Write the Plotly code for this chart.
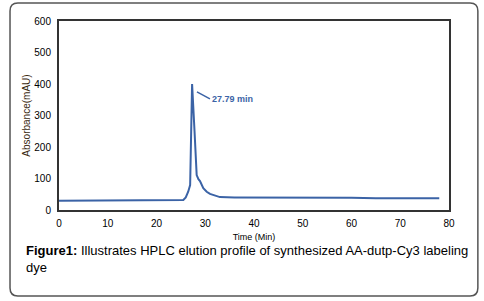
import plotly.graph_objects as go

time_min = [0, 5, 10, 15, 20, 25, 25.5, 26.0, 26.5, 26.9, 27.1, 27.3, 27.8, 28.24, 28.6, 28.92, 29.6, 30.3, 30.97, 32.0, 33.0, 36, 40, 50, 60, 65, 70, 78]
absorb = [29.5, 29.8, 30, 30.5, 31, 31.5, 32, 40, 58, 79, 200, 400, 250, 111, 98, 92, 69, 58, 51, 45, 41, 40, 40, 39.5, 39, 37, 37, 37]

x_ticks = [0, 10, 20, 30, 40, 50, 60, 70, 80]
y_ticks = [0, 100, 200, 300, 400, 500, 600]
peak_label = "27.79 min"
peak_x = 28.3
peak_y = 375

blue = "#3b63a6"
font = "Liberation Sans, Arial, sans-serif"

fig = go.Figure()
fig.add_trace(go.Scatter(x=time_min, y=absorb, mode="lines",
                         line=dict(color=blue, width=2), hoverinfo="skip"))

fig.update_layout(
    width=484, height=301,
    margin=dict(l=59, r=35, t=21, b=91, autoexpand=False),
    paper_bgcolor="white", plot_bgcolor="white",
    showlegend=False,
    font=dict(family=font, color="black", size=10),
    xaxis=dict(range=[0, 80], tickvals=x_ticks, showgrid=False, zeroline=False,
               showline=True, linecolor="#333", linewidth=2, mirror=True,
               ticks="", ticklen=0, ticklabelstandoff=3,
               tickfont=dict(size=10, color="black"),
               title=dict(text="Time (Min)", font=dict(size=9, color="black"), standoff=6)),
    yaxis=dict(range=[0, 600], tickvals=y_ticks, showgrid=False, zeroline=False,
               showline=True, linecolor="#333", linewidth=2, mirror=True,
               ticks="", ticklen=0, ticklabelstandoff=4,
               tickfont=dict(size=10, color="black"),
               title=dict(text="Absorbance(mAU)", font=dict(size=10, color="#3a2a10"), standoff=2)),
)

fig.add_annotation(x=peak_x, y=peak_y, text="<b>" + peak_label + "</b>",
                   showarrow=True, arrowhead=0, arrowwidth=1.5, arrowcolor=blue,
                   ax=13, ay=7, xanchor="left", yanchor="middle",
                   font=dict(size=9, color=blue), standoff=0)

fig.add_annotation(xref="paper", yref="paper", x=-0.0897, y=-0.165,
                   xanchor="left", yanchor="top", align="left", showarrow=False,
                   text="<b>Figure1:</b> Illustrates HPLC elution profile of synthesized AA-dutp-Cy3 labeling<br>dye",
                   font=dict(size=13, color="black", family=font))

# outer rounded frame (paper coords)
x0, x1, y0, y1, rx, ry = -0.1256, 1.074, -0.455, 1.095, 0.02, 0.042
fig.add_shape(type="path", xref="paper", yref="paper", layer="below",
              path=(f"M {x0+rx},{y1} L {x1-rx},{y1} Q {x1},{y1} {x1},{y1-ry} "
                    f"L {x1},{y0+ry} Q {x1},{y0} {x1-rx},{y0} L {x0+rx},{y0} "
                    f"Q {x0},{y0} {x0},{y0+ry} L {x0},{y1-ry} Q {x0},{y1} {x0+rx},{y1} Z"),
              line=dict(color="#555", width=1.5))

fig.write_html("out.html", post_script="document.body.style.margin='0';",
               config={"displayModeBar": False})
